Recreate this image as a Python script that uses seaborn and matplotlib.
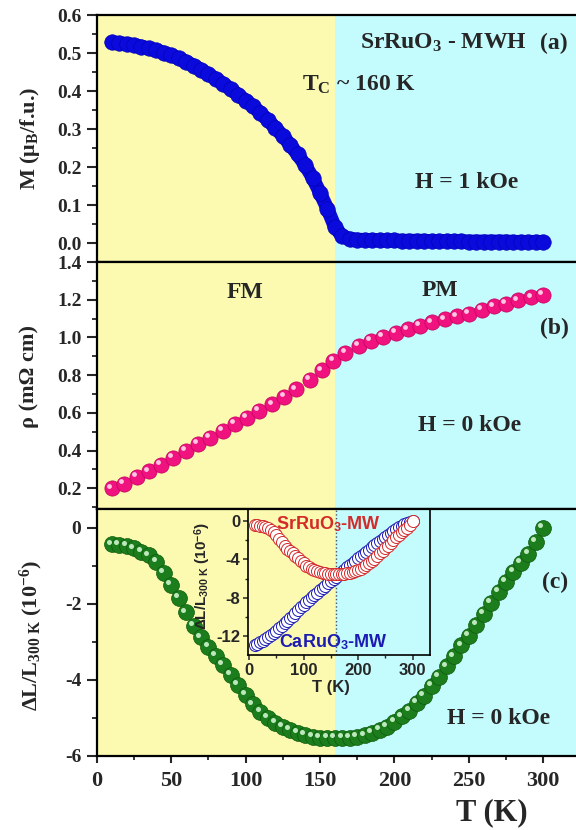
import matplotlib
matplotlib.use("Agg")
import pandas as pd
import matplotlib.pyplot as plt
import matplotlib.transforms as mtransforms
from matplotlib.ticker import MultipleLocator
import seaborn as sns

# ---- data ----
# 5 K grid used by M(T) and dL/L(T)
T_5K = [10, 15, 20, 25, 30, 35, 40, 45, 50, 55, 60, 65, 70, 75, 80, 85, 90, 95,
        100, 105, 110, 115, 120, 125, 130, 135, 140, 145, 150, 155, 160, 165, 170,
        175, 180, 185, 190, 195, 200, 205, 210, 215, 220, 225, 230, 235, 240, 245,
        250, 255, 260, 265, 270, 275, 280, 285, 290, 295, 300]

# (a) magnetization, H = 1 kOe (muB/f.u.)
M_H1k = [0.528, 0.526, 0.524, 0.521, 0.517, 0.512, 0.507, 0.501, 0.494, 0.486,
         0.477, 0.467, 0.456, 0.444, 0.432, 0.419, 0.405, 0.390, 0.375, 0.360,
         0.342, 0.323, 0.303, 0.282, 0.258, 0.233, 0.205, 0.172, 0.132, 0.090,
         0.042, 0.018, 0.011, 0.009, 0.008, 0.008, 0.007, 0.007, 0.007, 0.006,
         0.006, 0.006, 0.006, 0.005, 0.005, 0.005, 0.005, 0.005, 0.004, 0.004,
         0.004, 0.004, 0.004, 0.004, 0.003, 0.003, 0.003, 0.003, 0.003]

# (b) resistivity, H = 0 (mOhm cm)
T_rho = [10, 18, 27, 35, 43, 51, 60, 68, 76, 85, 93, 101, 109, 118, 126, 134, 143,
         151, 159, 167, 176, 184, 192, 201, 209, 217, 225, 234, 242, 250, 259, 267,
         275, 283, 292, 300]
rho_H0 = [0.200, 0.225, 0.260, 0.290, 0.325, 0.360, 0.398, 0.435, 0.468, 0.505,
          0.540, 0.575, 0.610, 0.645, 0.685, 0.725, 0.775, 0.825, 0.875, 0.920,
          0.955, 0.980, 1.003, 1.025, 1.043, 1.062, 1.080, 1.096, 1.112, 1.127,
          1.146, 1.165, 1.180, 1.197, 1.212, 1.225]

# (c) thermal expansion dL/L_300K (1e-6), SrRuO3 and (inset) CaRuO3
dL_sr = [-0.43, -0.44, -0.48, -0.54, -0.62, -0.72, -0.90, -1.18, -1.50, -1.85,
         -2.22, -2.58, -2.88, -3.13, -3.37, -3.60, -3.86, -4.12, -4.40, -4.64,
         -4.84, -5.00, -5.12, -5.23, -5.32, -5.39, -5.45, -5.49, -5.52, -5.53,
         -5.53, -5.53, -5.52, -5.50, -5.46, -5.40, -5.32, -5.23, -5.10, -4.96,
         -4.81, -4.61, -4.41, -4.16, -3.91, -3.64, -3.38, -3.09, -2.84, -2.56,
         -2.27, -1.97, -1.68, -1.41, -1.15, -0.92, -0.68, -0.37, 0.00]
dL_ca = [-12.92, -12.78, -12.62, -12.45, -12.28, -12.08, -11.87, -11.65, -11.42,
         -11.18, -10.93, -10.67, -10.40, -10.12, -9.84, -9.56, -9.28, -9.00, -8.72,
         -8.45, -8.20, -7.95, -7.70, -7.45, -7.20, -6.97, -6.73, -6.50, -6.27,
         -6.03, -5.80, -5.55, -5.31, -5.07, -4.83, -4.58, -4.35, -4.12, -3.89,
         -3.66, -3.43, -3.20, -2.97, -2.74, -2.52, -2.29, -2.07, -1.85, -1.63,
         -1.42, -1.22, -1.02, -0.83, -0.64, -0.47, -0.31, -0.17, -0.06, 0.00]

TC = 160
YELLOW = "#FCFAB0"
CYAN = "#C4FBFD"
BLUE = "#0A0ADC"
PINK = "#F0127E"
GREEN = "#1B7D1B"
SR_RED = "#D42A2A"
CA_BLUE = "#1C1CB4"

sns.set_theme(style="ticks")
plt.rcParams["font.family"] = ["Liberation Serif", "DejaVu Serif"]
plt.rcParams.update({
    "font.weight": "bold",
    "mathtext.fontset": "custom",
    "mathtext.rm": "Liberation Serif:bold",
    "mathtext.it": "Liberation Serif:bold:italic",
    "mathtext.bf": "Liberation Serif:bold",
    "mathtext.sf": "Liberation Sans:bold",
    "mathtext.default": "rm",
    "axes.unicode_minus": False,
    "axes.linewidth": 1.6,
    "axes.edgecolor": "black",
})

W_PX, H_PX = 576, 830
fig = plt.figure(figsize=(W_PX / 100, H_PX / 100), dpi=100)


def fig_text(px, py, s, **kw):
    fig.text(px / W_PX, 1 - py / H_PX, s, ha=kw.pop("ha", "center"),
             va=kw.pop("va", "center"), **kw)


def style_panel(ax, ylim, major, minor, bottom_axis):
    ax.axvspan(0, TC, color=YELLOW, lw=0, zorder=0)
    ax.axvspan(TC, 400, color=CYAN, lw=0, zorder=0)
    ax.set_xlim(0, 322)
    ax.set_ylim(*ylim)
    ax.yaxis.set_major_locator(MultipleLocator(major))
    ax.yaxis.set_minor_locator(MultipleLocator(minor))
    ax.xaxis.set_major_locator(MultipleLocator(50))
    ax.xaxis.set_minor_locator(MultipleLocator(25))
    ax.spines["right"].set_visible(False)
    ax.tick_params(axis="y", which="major", direction="out", length=7, width=1.5,
                   labelsize=14, pad=4, right=False)
    ax.tick_params(axis="y", which="minor", direction="out", length=3.5, width=1.3,
                   right=False)
    if bottom_axis:
        ax.tick_params(axis="x", which="major", direction="out", length=5, width=1.5,
                       labelsize=16, pad=6, top=False)
        ax.tick_params(axis="x", which="minor", direction="out", length=3, width=1.3,
                       top=False)
    else:
        ax.tick_params(axis="x", which="both", bottom=False, top=False,
                       labelbottom=False)
    ax.set_xlabel("")
    ax.set_ylabel("")


def spheres(ax, x, y, size, hl):
    # fake 3D bead look: a small light spot shifted up-left on each marker
    off = mtransforms.offset_copy(ax.transData, fig=fig, x=-2.0, y=2.0, units="points")
    ax.scatter(x, y, s=size, color=hl, linewidths=0, transform=off, zorder=4)


L, W, H = 0.168, 0.832, 0.2976
ax_m = fig.add_axes([L, 0.6843, W, H])
ax_r = fig.add_axes([L, 0.3867, W, H])
ax_d = fig.add_axes([L, 0.0892, W, H])

# (a) M(T)
df_m = pd.DataFrame({"T": T_5K, "M": M_H1k})
sns.lineplot(data=df_m, x="T", y="M", ax=ax_m, color=BLUE, lw=10,
             solid_capstyle="round", zorder=2)
sns.scatterplot(data=df_m, x="T", y="M", ax=ax_m, color=BLUE, s=125,
                edgecolor="#0000B0", linewidth=0.4, zorder=3)
style_panel(ax_m, (-0.05, 0.6), 0.1, 0.05, False)

# (b) rho(T)
df_r = pd.DataFrame({"T": T_rho, "rho": rho_H0})
sns.scatterplot(data=df_r, x="T", y="rho", ax=ax_r, color=PINK, s=120,
                edgecolor="#C0005E", linewidth=0.5, zorder=3)
spheres(ax_r, T_rho, rho_H0, 12, "#FFC8E2")
style_panel(ax_r, (0.09, 1.4), 0.2, 0.1, False)

# (c) dL/L(T)
df_d = pd.DataFrame({"T": T_5K, "dL": dL_sr})
sns.scatterplot(data=df_d, x="T", y="dL", ax=ax_d, color=GREEN, s=130,
                edgecolor="#0E5A0E", linewidth=0.5, zorder=3)
spheres(ax_d, T_5K, dL_sr, 13, "#BDE8BD")
style_panel(ax_d, (-6, 0.5), 2, 1, True)

# inset: SrRuO3 vs CaRuO3
ax_in = fig.add_axes([248 / W_PX, 1 - 655 / H_PX, 182 / W_PX, 146 / H_PX])
ax_in.patch.set_alpha(0)
ax_in.axvline(TC, color="#555555", ls=":", lw=1.0, zorder=1)
sns.scatterplot(x=T_5K, y=dL_ca, ax=ax_in, marker="o", s=75, color="white",
                edgecolor=CA_BLUE, linewidth=0.7, zorder=3)
sns.scatterplot(x=T_5K, y=dL_sr, ax=ax_in, marker="o", s=75, color="white",
                edgecolor=SR_RED, linewidth=0.7, zorder=4)
ax_in.set_xlim(-2, 332)
ax_in.set_ylim(-13.95, 1.25)
ax_in.xaxis.set_major_locator(MultipleLocator(100))
ax_in.xaxis.set_minor_locator(MultipleLocator(50))
ax_in.yaxis.set_major_locator(MultipleLocator(4))
ax_in.yaxis.set_minor_locator(MultipleLocator(2))
for sp in ax_in.spines.values():
    sp.set_linewidth(1.2)
ax_in.tick_params(which="major", direction="out", length=3.5, width=1.1,
                  labelsize=12, pad=2, labelfontfamily="Liberation Sans")
ax_in.tick_params(which="minor", direction="out", length=2, width=1.0)
ax_in.set_xlabel("")
ax_in.set_ylabel("")
fig_text(331, 687, "T (K)", fontsize=12, family="Liberation Sans")
fig_text(203, 576, r"ΔL/L$_{\mathsf{300\ K}}$ (10$^{\mathsf{-6}}$)", fontsize=11,
         family="Liberation Sans", rotation=90)
fig_text(328, 524, r"SrRuO$_{\mathsf{3}}$-MW", fontsize=13, color=SR_RED,
         family="Liberation Sans")
fig_text(333, 642, r"CaRuO$_{\mathsf{3}}$-MW", fontsize=13, color=CA_BLUE,
         family="Liberation Sans")

# axis labels
fig_text(30, 138, r"M (μ$_{B}$/f.u.)", fontsize=16, rotation=90)
fig_text(29, 376, "ρ (mΩ cm)", fontsize=16, rotation=90)
fig_text(31, 635, r"ΔL/L$_{300\ K}$ (10$^{-6}$)", fontsize=16, rotation=90)
fig_text(492, 813, "T (K)", fontsize=22)

# annotations
fig_text(443, 43, r"SrRuO$_{3}$ - MWH", fontsize=17)
fig_text(554, 43, "(a)", fontsize=17)
fig_text(302, 85, r"T$_{C}$ ~ 160 K", fontsize=17, ha="left")
fig_text(467, 182, "H = 1 kOe", fontsize=17)
fig_text(245, 292, "FM", fontsize=17)
fig_text(440, 290, "PM", fontsize=17)
fig_text(554, 328, "(b)", fontsize=17)
fig_text(470, 425, "H = 0 kOe", fontsize=17)
fig_text(555, 582, "(c)", fontsize=17)
fig_text(499, 718, "H = 0 kOe", fontsize=17)

fig.savefig("out.png", dpi=100)
plt.close(fig)
